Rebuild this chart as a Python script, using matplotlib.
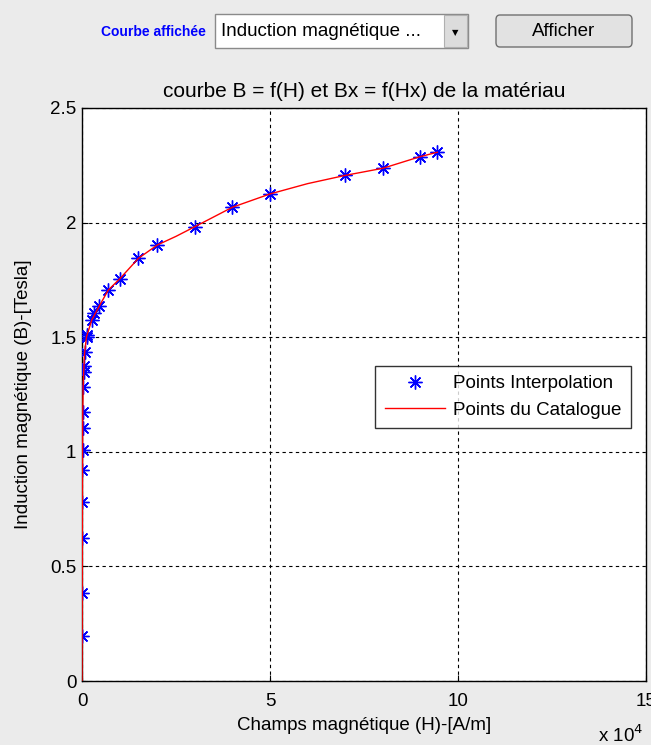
import matplotlib
matplotlib.use("Agg")
import matplotlib.pyplot as plt
from matplotlib.patches import FancyBboxPatch, Rectangle
import numpy as np

# interpolation points (H in A/m, B in T)
H_interp = [40, 60, 80, 100, 120, 140, 170, 200, 300, 450, 500, 700, 1200,
            1200, 2600, 3300, 4600, 7000, 10000, 15000, 20000, 30000, 40000,
            50000, 70000, 80000, 90000, 94500]
B_interp = [0.196, 0.383, 0.625, 0.782, 0.92, 1.008, 1.102, 1.175, 1.281, 1.35,
            1.374, 1.434, 1.502, 1.51, 1.575, 1.604, 1.636, 1.706, 1.754, 1.844,
            1.902, 1.982, 2.067, 2.125, 2.206, 2.237, 2.288, 2.307]

# catalogue curve
H_cat = [0, 40, 60, 80, 100, 120, 140, 170, 200, 300, 450, 700, 1200, 2600,
         4600, 7000, 10000, 15000, 20000, 25000, 30000, 40000, 50000, 60000,
         70000, 80000, 90000, 94500]
B_cat = [0.0, 0.196, 0.383, 0.625, 0.782, 0.92, 1.008, 1.102, 1.175, 1.281,
         1.35, 1.434, 1.502, 1.575, 1.636, 1.706, 1.754, 1.844, 1.902, 1.94,
         1.982, 2.067, 2.125, 2.17, 2.206, 2.237, 2.288, 2.307]

bg = "#ebebeb"
plt.rcParams["font.family"] = ["Liberation Sans", "DejaVu Sans"]
fs = 13.5

fig = plt.figure(figsize=(6.51, 7.45), dpi=100, facecolor=bg)
W, Hh = 651.0, 745.0

def fx(px):
    return px / W

def fy(py):
    return 1 - py / Hh

# top controls
fig.text(fx(153), fy(32), "Courbe affichée", color="#0000ff", fontsize=10,
         fontweight="bold", ha="center", va="center")
fig.patches.append(Rectangle((fx(215), fy(48)), (468 - 215) / W, 34 / Hh,
                             transform=fig.transFigure, facecolor="white",
                             edgecolor="#8a8a8a", lw=1))
fig.patches.append(Rectangle((fx(444), fy(47)), (467 - 444) / W, 32 / Hh,
                             transform=fig.transFigure, facecolor="#dcdcdc",
                             edgecolor="#b0b0b0", lw=0.8))
fig.text(fx(455), fy(33), "▼", fontsize=6, ha="center", va="center",
         color="black", family=["DejaVu Sans"])
fig.text(fx(221), fy(31), "Induction magnétique ...", fontsize=fs,
         ha="left", va="center")
fig.patches.append(FancyBboxPatch((fx(496), fy(47)), (632 - 496) / W, 32 / Hh,
                                  boxstyle="round,pad=0,rounding_size=0.006",
                                  transform=fig.transFigure, facecolor="#e2e2e2",
                                  edgecolor="#707070", lw=1))
fig.text(fx(564), fy(32), "Afficher", fontsize=fs, ha="center", va="center")

ax = fig.add_axes([82 / W, 1 - 681 / Hh, 564 / W, 573 / Hh])
ax.set_facecolor("white")

ax.plot(np.array(H_interp) / 1e4, B_interp, marker=(8, 2, 0), ls="none",
        color="blue", ms=10, mew=1.0, label="Points Interpolation", zorder=3)
ax.plot(np.array(H_cat) / 1e4, B_cat, "-", color="red", lw=1.0,
        label="Points du Catalogue", zorder=4)

ax.set_xlim(0, 15)
ax.set_ylim(0, 2.5)
ax.set_xticks([0, 5, 10, 15])
ax.set_xticklabels(["0", "5", "10", "15"])
ax.set_yticks([0, 0.5, 1, 1.5, 2, 2.5])
ax.set_yticklabels(["0", "0.5", "1", "1.5", "2", "2.5"])
ax.tick_params(direction="in", length=4, labelsize=fs, color="black")
ax.tick_params(axis="y", pad=4)
ax.tick_params(axis="x", pad=9)
ax.grid(True, color="black", linestyle=(0, (3, 3)), lw=0.8)
for s in ax.spines.values():
    s.set_linewidth(1.0)

ax.set_title("courbe B = f(H) et Bx = f(Hx) de la matériau", fontsize=15,
             pad=8)
ax.set_xlabel("Champs magnétique (H)-[A/m]", fontsize=fs, labelpad=5)
ax.set_ylabel("Induction magnétique (B)-[Tesla]", fontsize=fs, labelpad=13)
fig.text(fx(621), fy(735), r"x 10$^4$", fontsize=fs, ha="center", va="center")

leg = ax.legend(loc="center right", bbox_to_anchor=(0.99, 0.496),
                fontsize=fs, frameon=True, fancybox=False, edgecolor="black",
                borderpad=0.5, handlelength=3.2, labelspacing=0.5,
                handletextpad=0.45)
leg.get_frame().set_linewidth(1.0)

fig.savefig("out.png", dpi=100, facecolor=bg)
